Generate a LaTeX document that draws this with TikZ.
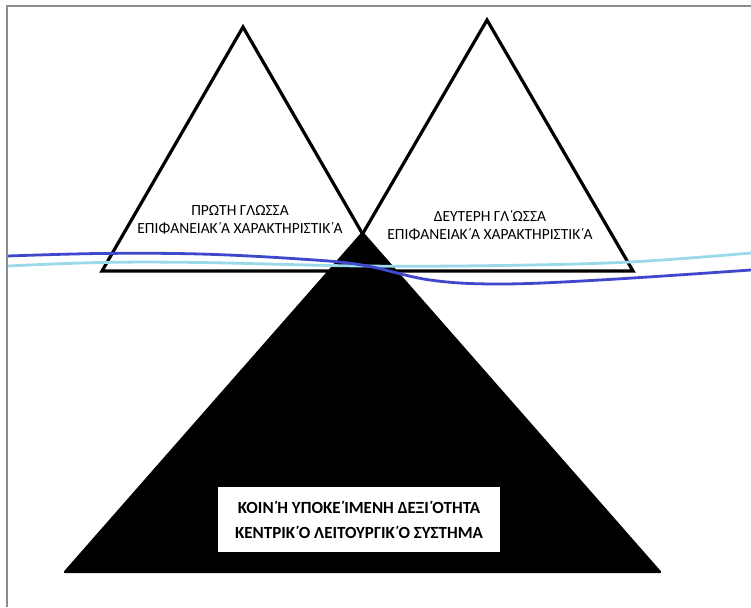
\documentclass[tikz,border=0pt]{standalone}
\usepackage{fontspec}
\setmainfont{Carlito}
\newcommand\tn{\kern-0.03em\char"0384\kern-0.07em}
\begin{document}
\begin{tikzpicture}[x=1pt,y=-1pt,
  tri/.style={draw=black,line width=3.2pt,line join=miter,fill=white},
  lbl/.style={align=center,font=\fontsize{15.5}{18}\selectfont,inner sep=0pt},
  curve/.style={line width=2.8pt}]
\useasboundingbox (0,0) rectangle (751,607);
\fill[white] (0,0) rectangle (751,607);
% frame
\draw[color=gray!90,line width=2.8pt] (7,607) -- (7,6) -- (751,6);
% white triangles
\draw[tri] (243,27) -- (384,271) -- (102,271) -- cycle;
\draw[tri] (487,20) -- (633,271) -- (341,271) -- cycle;
% black triangle
\fill[black] (362.5,233) -- (660,572) -- (65,572) -- cycle;
\draw[black,line width=2.4pt,line join=round] (362.5,233) -- (660,572) -- (65,572) -- cycle;
% labels
\node[lbl] (t1) at (240,220) {ΠΡΩΤΗ ΓΛΩΣΣΑ\\ΕΠΙΦΑΝΕΙΑΚ\tn Α ΧΑΡΑΚΤΗΡΙΣΤΙΚ\tn Α};
\node[lbl] (t2) at (490,225) {ΔΕΥΤΕΡΗ ΓΛ\tn ΩΣΣΑ\\ΕΠΙΦΑΝΕΙΑΚ\tn Α ΧΑΡΑΚΤΗΡΙΣΤΙΚ\tn Α};
\node[fill=white,minimum width=282pt,minimum height=65pt,inner sep=0pt,
  align=center,font=\bfseries\fontsize{17}{25}\selectfont] (core) at (359,519.5)
  {ΚΟΙΝ\tn Η ΥΠΟΚΕ\tn ΙΜΕΝΗ ΔΕΞΙ\tn ΟΤΗΤΑ\\ΚΕΝΤΡΙΚ\tn Ο ΛΕΙΤΟΥΡΓΙΚ\tn Ο ΣΥΣΤΗΜΑ};
% curves
\draw[curve,color={rgb,255:red,153;green,217;blue,234}] plot[smooth,tension=0.6]
  coordinates {(8,266) (100,262.5) (200,262.5) (362,266) (500,265.5) (630,262) (751,253)};
\draw[curve,color={rgb,255:red,63;green,72;blue,204}] plot[smooth,tension=0.6]
  coordinates {(8,256) (100,253.5) (200,254) (300,259) (362,265) (430,280) (500,284) (600,280) (751,270)};
\end{tikzpicture}
\end{document}
